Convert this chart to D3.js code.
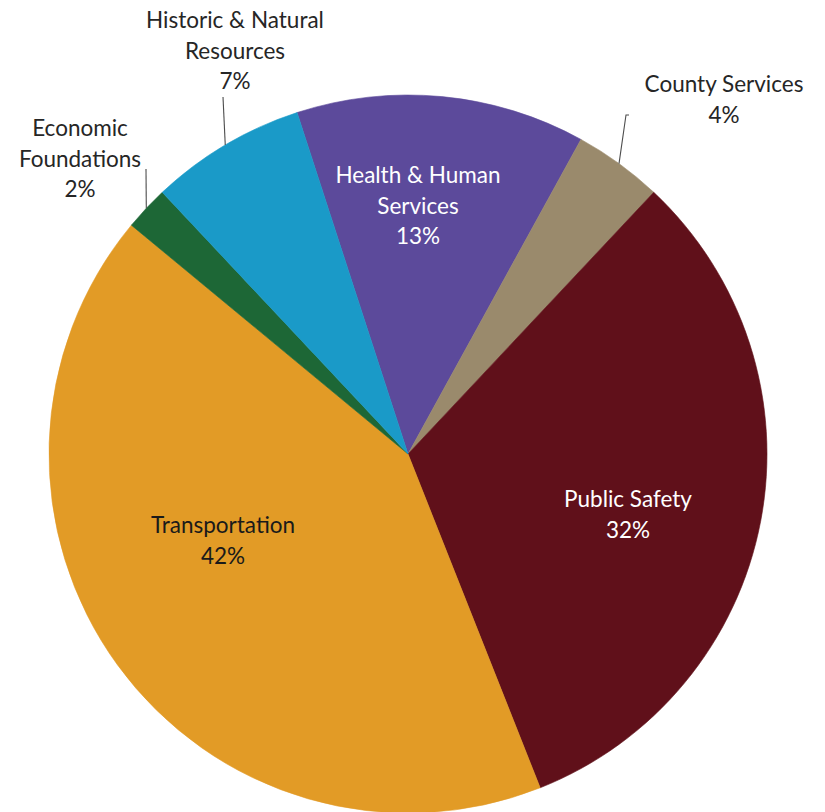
<!DOCTYPE html>
<html>
<head>
<meta charset="utf-8">
<script src="https://cdn.jsdelivr.net/npm/d3@7"></script>
<style>
  html, body { margin: 0; padding: 0; background: #ffffff; }
  svg { display: block; }
  text { font-family: Lato, "Open Sans", sans-serif; }
</style>
</head>
<body>
<svg id="chart" width="825" height="812"></svg>
<script>
// Budget shares by program area, listed clockwise from the top
const categories = [
  "Health & Human Services",
  "County Services",
  "Public Safety",
  "Transportation",
  "Economic Foundations",
  "Historic & Natural Resources"
];
const values = [13, 4, 32, 42, 2, 7];
const colors = ["#5c4a9b", "#9a8a6c", "#60101a", "#e29b26", "#1d6736", "#1a9ac8"];

// Label text lines (percent line is added from the value)
const labelLines = [
  ["Health & Human", "Services"],
  ["County Services"],
  ["Public Safety"],
  ["Transportation"],
  ["Economic", "Foundations"],
  ["Historic & Natural", "Resources"]
];

// Layout
const width = 825, height = 812;
const cx = 408, cy = 454, radius = 359;
const startDeg = -18;
const fontSize = 22.5;
const lineGap = 30.5;

// label placement: either inside (x,y of first baseline) or outside with a leader
const labelLayout = [
  { x: 418, y: 183, fill: "#ffffff" },
  { x: 724, y: 92, fill: "#262626", leader: { x: 626, y: 115, tick: 3 } },
  { x: 628, y: 507, fill: "#ffffff" },
  { x: 223, y: 533, fill: "#1a1a1a" },
  { x: 80, y: 136, fill: "#262626", leader: { x: 146, y: 169 } },
  { x: 235, y: 28, fill: "#262626", leader: { x: 223, y: 97 } }
];

const svg = d3.select("#chart");
svg.append("rect").attr("width", width).attr("height", height).attr("fill", "#ffffff");

const g = svg.append("g").attr("transform", `translate(${cx},${cy})`);

const rad = Math.PI / 180;
const pie = d3.pie()
  .sort(null)
  .value(d => d.value)
  .startAngle(startDeg * rad)
  .endAngle(startDeg * rad + 2 * Math.PI);

const data = categories.map((c, i) => ({ name: c, value: values[i], color: colors[i], lines: labelLines[i], layout: labelLayout[i] }));
const arcs = pie(data);

const arc = d3.arc().innerRadius(0).outerRadius(radius);

g.selectAll("path.slice")
  .data(arcs)
  .join("path")
  .attr("class", "slice")
  .attr("d", arc)
  .attr("fill", d => d.data.color)
  .attr("stroke", d => d.data.color)
  .attr("stroke-width", 0.6);

// Leader lines from the slice's outer edge (mid angle) to the label
const leaders = arcs.filter(d => d.data.layout.leader);
svg.selectAll("path.leader")
  .data(leaders)
  .join("path")
  .attr("class", "leader")
  .attr("fill", "none")
  .attr("stroke", "#4d4d4d")
  .attr("stroke-width", 1.1)
  .attr("d", d => {
    const mid = (d.startAngle + d.endAngle) / 2;
    const px = cx + radius * Math.sin(mid);
    const py = cy - radius * Math.cos(mid);
    const L = d.data.layout.leader;
    const p = d3.path();
    p.moveTo(px, py);
    p.lineTo(L.x, L.y);
    if (L.tick) p.lineTo(L.x + L.tick, L.y);
    return p.toString();
  });

// Labels
const labels = svg.selectAll("text.label")
  .data(arcs)
  .join("text")
  .attr("class", "label")
  .attr("text-anchor", "middle")
  .attr("font-size", fontSize)
  .attr("fill", d => d.data.layout.fill);

labels.each(function(d) {
  const t = d3.select(this);
  const lines = d.data.lines.concat([d.data.value + "%"]);
  lines.forEach((s, i) => {
    t.append("tspan")
      .attr("x", d.data.layout.x)
      .attr("y", d.data.layout.y + i * lineGap)
      .text(s);
  });
});
</script>
</body>
</html>
